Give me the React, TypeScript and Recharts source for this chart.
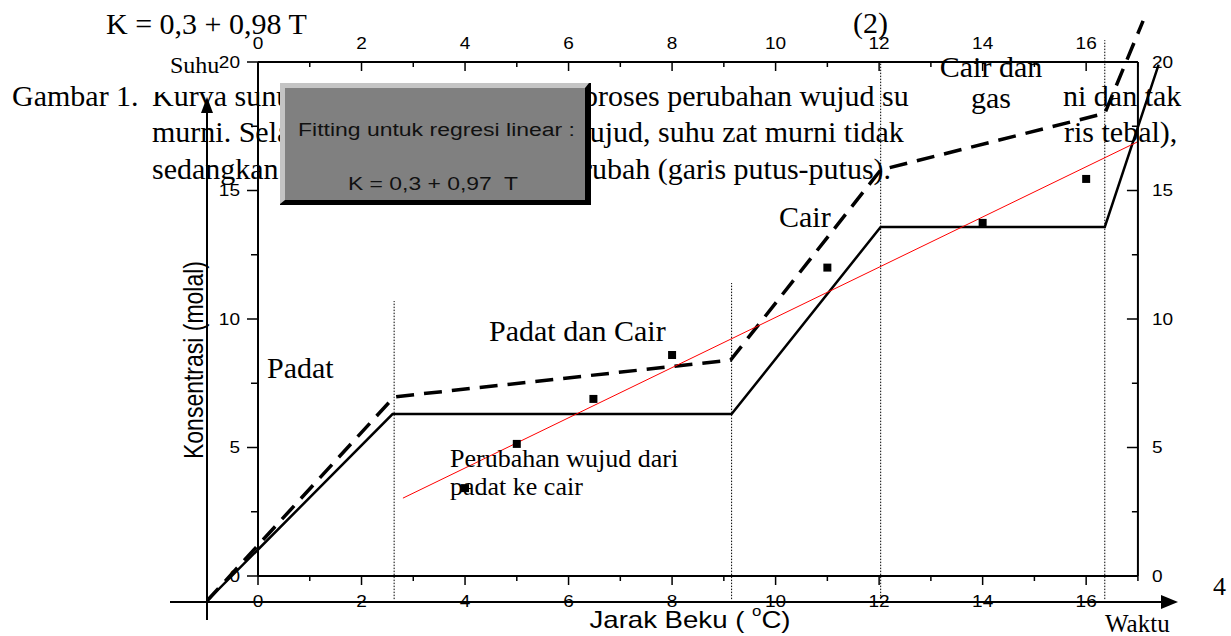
import React from 'react';
import { ComposedChart, Line, Scatter, XAxis, YAxis, ReferenceLine } from 'recharts';

// pure substance (solid) — Waktu vs Suhu
const pureX = [-1, 2.6, 9.15, 12.03, 16.36, 17.4];
const pureY = [-1, 6.3, 6.3, 13.58, 13.58, 19.9];
// impure substance (dashed)
const impureX = [-1, 2.63, 9.13, 12.03, 16.36, 17.1];
const impureY = [-1, 6.97, 8.4, 15.8, 18.0, 21.6];
// measured points: Jarak Beku vs Konsentrasi
const measX = [4, 5, 6.48, 8, 11, 14, 16];
const measY = [3.42, 5.14, 6.89, 8.6, 12.0, 13.74, 15.45];
// regression line as drawn (K = 0,3 + 0,97 T)
const fitX = [2.8, 17];
const fitY = [3.03, 16.9];
// phase boundaries (dotted)
const phaseX = [2.63, 9.15, 12.03, 16.36];
const phaseTop = [10.7, 11.4, 20, 20.85];
const phaseBottom = -0.9;

const xTicks = [0, 1, 2, 3, 4, 5, 6, 7, 8, 9, 10, 11, 12, 13, 14, 15, 16, 17];
const yTicks = [0, 2.5, 5, 7.5, 10, 12.5, 15, 17.5, 20];

const zip = (xs: number[], ys: number[]) => xs.map((x, i) => ({ x, y: ys[i] }));

const W = 1231;
const H = 636;
const serif = "'Liberation Serif', 'Times New Roman', serif";
const sans = "'Liberation Sans', Arial, sans-serif";

const AxisText = ({ x, y, text, anchor }: any) => (
  <text
    transform={`translate(${x},${y}) scale(1.12,1)`}
    textAnchor={anchor}
    dominantBaseline="central"
    fontFamily={sans}
    fontSize={17}
    fill="#000"
  >
    {text}
  </text>
);

const BottomTick = (p: any) => {
  const v = p.payload.value;
  const major = v % 2 === 0;
  return (
    <g>
      <line x1={p.x} y1={p.y} x2={p.x} y2={p.y + (major ? 9 : 5)} stroke="#000" strokeWidth={1.5} />
      {major && <AxisText x={p.x} y={p.y + 25} anchor="middle" text={String(v)} />}
    </g>
  );
};

const TopTick = (p: any) => {
  const v = p.payload.value;
  const major = v % 2 === 0;
  return (
    <g>
      <line x1={p.x} y1={p.y} x2={p.x} y2={p.y + (major ? 9 : 5)} stroke="#000" strokeWidth={1.5} />
      {major && <AxisText x={p.x} y={p.y - 19} anchor="middle" text={String(v)} />}
    </g>
  );
};

const LeftTick = (p: any) => {
  const v = p.payload.value;
  const major = v % 5 === 0;
  return (
    <g>
      <line x1={p.x} y1={p.y} x2={p.x - (major ? 11 : 7)} y2={p.y} stroke="#000" strokeWidth={1.5} />
      {major && <AxisText x={p.x - 18} y={p.y} anchor="end" text={String(v)} />}
    </g>
  );
};

const RightTick = (p: any) => {
  const v = p.payload.value;
  const major = v % 5 === 0;
  return (
    <g>
      <line x1={p.x} y1={p.y} x2={p.x - (major ? 11 : 6)} y2={p.y} stroke="#000" strokeWidth={1.5} />
      {major && <AxisText x={p.x + 14} y={p.y} anchor="start" text={String(v)} />}
    </g>
  );
};

const layer: React.CSSProperties = { position: 'absolute', left: 0, top: 0 };
const frameLine = { stroke: '#000', strokeWidth: 2 };

export default function App() {
  return (
    <div style={{ position: 'absolute', left: 0, top: 0, width: W, height: H, background: '#fff', overflow: 'hidden' }}>
      {/* page text behind the figure */}
      <svg width={W} height={H} style={layer} fontFamily={serif} fontSize={30} fill="#000">
        <text x={106} y={34}>K = 0,3 + 0,98 T</text>
        <text x={853} y={33}>(2)</text>
        <text x={12} y={106}>Gambar 1.</text>
        <text x={152} y={106}>Kurva suhu</text>
        <text x={583} y={106}>proses perubahan wujud su</text>
        <text x={1063} y={106}>ni dan tak</text>
        <text x={152} y={142}>murni. Selama</text>
        <text x={568} y={142}>wujud, suhu zat murni tidak</text>
        <text x={1064} y={142}>ris tebal),</text>
        <text x={152} y={179}>sedangkan</text>
        <text x={582} y={179}>rubah (garis putus-putus).</text>
        <rect x={150} y={52} width={132} height={40} fill="#fff" />
      </svg>

      {/* temperature curves on the Waktu / Suhu frame */}
      <div style={layer}>
        <ComposedChart width={W} height={H} margin={{ top: 10.6, right: 41.32, bottom: 8.6, left: 206.24 }}>
          <XAxis type="number" dataKey="x" domain={[-1, 18]} allowDataOverflow hide />
          <YAxis type="number" dataKey="y" domain={[-2, 22]} allowDataOverflow hide />
          {phaseX.map((x, i) => (
            <ReferenceLine
              key={i}
              segment={[{ x, y: phaseBottom }, { x, y: phaseTop[i] }]}
              stroke="#000"
              strokeWidth={1}
              strokeDasharray="1.5 1.5"
              ifOverflow="visible"
            />
          ))}
          <Line data={zip(pureX, pureY)} dataKey="y" type="linear" stroke="#000" strokeWidth={2.5} dot={false} isAnimationActive={false} />
          <Line data={zip(impureX, impureY)} dataKey="y" type="linear" stroke="#000" strokeWidth={3.5} strokeDasharray="18 10" dot={false} isAnimationActive={false} />
        </ComposedChart>
      </div>

      {/* Jarak Beku / Konsentrasi frame with measured points and fit */}
      <div style={layer}>
        <ComposedChart width={W} height={H} margin={{ top: 32, right: 53.08, bottom: 30, left: 218 }}>
          <XAxis xAxisId="b" orientation="bottom" type="number" dataKey="x" domain={[0, 17]} allowDataOverflow ticks={xTicks} interval={0} height={30} tickSize={0} tickMargin={0} tickLine={false} axisLine={frameLine} tick={(p: any) => <BottomTick {...p} />} />
          <XAxis xAxisId="t" orientation="top" type="number" dataKey="x" domain={[0, 17]} allowDataOverflow ticks={xTicks} interval={0} height={30} tickSize={0} tickMargin={0} tickLine={false} axisLine={frameLine} tick={(p: any) => <TopTick {...p} />} />
          <YAxis yAxisId="l" orientation="left" type="number" dataKey="y" domain={[0, 20]} allowDataOverflow ticks={yTicks} interval={0} width={40} tickSize={0} tickMargin={0} tickLine={false} axisLine={frameLine} tick={(p: any) => <LeftTick {...p} />} />
          <YAxis yAxisId="r" orientation="right" type="number" dataKey="y" domain={[0, 20]} allowDataOverflow ticks={yTicks} interval={0} width={40} tickSize={0} tickMargin={0} tickLine={false} axisLine={frameLine} tick={(p: any) => <RightTick {...p} />} />
          <Line xAxisId="b" yAxisId="l" data={zip(fitX, fitY)} dataKey="y" type="linear" stroke="#ff0000" strokeWidth={1} dot={false} isAnimationActive={false} />
          <Scatter xAxisId="b" yAxisId="l" data={zip(measX, measY)} shape="square" fill="#000" isAnimationActive={false} />
        </ComposedChart>
      </div>

      {/* annotations, arrows and fit box */}
      <svg width={W} height={H} style={layer}>
        <line x1={207} y1={620} x2={207} y2={110} stroke="#000" strokeWidth={2} />
        <polygon points="207,97 201,113 213,113" fill="#000" />
        <line x1={170} y1={602} x2={1163} y2={602} stroke="#000" strokeWidth={2} />
        <polygon points="1178,602 1161,595 1161,609" fill="#000" />

        <rect x={280} y={83} width={311} height={122} fill="#000" />
        <polygon points="280,83 589,83 585,88 285,88 285,200 280,204" fill="#c4c4c4" />
        <rect x={285} y={88} width={300} height={112} fill="#808080" />
        <text x={298} y={136} fontFamily={sans} fontSize={18} textLength={277} lengthAdjust="spacingAndGlyphs" fill="#111">Fitting untuk regresi linear :</text>
        <text x={348} y={190} fontFamily={sans} fontSize={18} textLength={170} lengthAdjust="spacingAndGlyphs" fill="#111" xmlSpace="preserve">K = 0,3 + 0,97  T</text>

        <g fontFamily={serif} fill="#000">
          <text x={170} y={73} fontSize={24}>Suhu</text>
          <text x={267} y={378} fontSize={30}>Padat</text>
          <text x={489} y={341} fontSize={30}>Padat dan Cair</text>
          <text x={779} y={227} fontSize={30}>Cair</text>
          <text x={991} y={77} fontSize={30} textAnchor="middle">Cair dan</text>
          <text x={991} y={108} fontSize={30} textAnchor="middle">gas</text>
          <text x={450} y={467} fontSize={26}>Perubahan wujud dari</text>
          <text x={450} y={495} fontSize={26}>padat ke cair</text>
          <text x={1105} y={632} fontSize={25}>Waktu</text>
          <text x={1213} y={595} fontSize={26}>4</text>
        </g>

        <text transform="translate(193,360) scale(1.2,1) rotate(-90)" textAnchor="middle" dominantBaseline="central" fontFamily={sans} fontSize={23} fill="#000">
          Konsentrasi (molal)
        </text>
        <text transform="translate(690,620) scale(1.2,1)" textAnchor="middle" dominantBaseline="central" fontFamily={sans} fontSize={23} fill="#000">
          Jarak Beku ( <tspan fontSize={14} dy={-9}>o</tspan><tspan dy={9}>C)</tspan>
        </text>
      </svg>
    </div>
  );
}
